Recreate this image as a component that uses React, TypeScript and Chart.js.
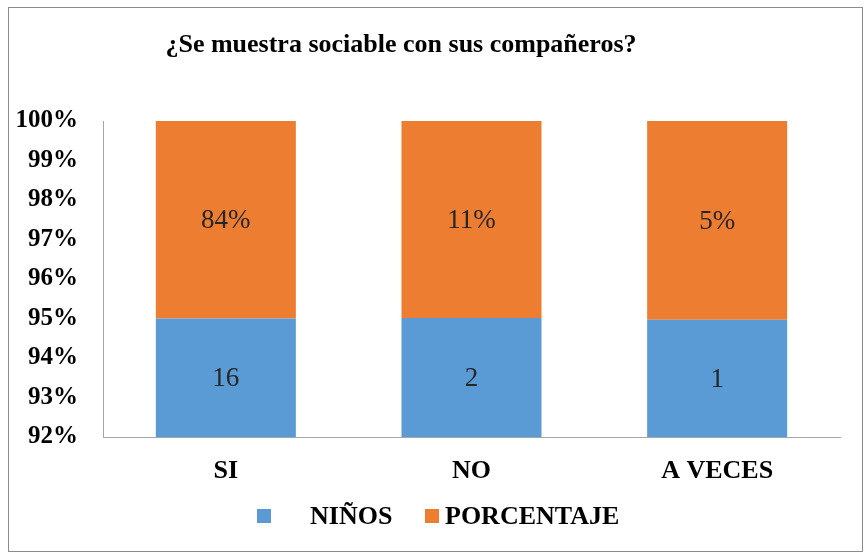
import React, { useEffect, useRef } from "react";
import { Chart, registerables } from "chart.js";

Chart.register(...registerables);

const categories = ["SI", "NO", "A VECES"];
const ninos = [16, 2, 1];
const porcentaje = [0.842, 0.105, 0.053];
const yMin = 92;
const yMax = 100;
const titleText = "¿Se muestra sociable con sus compañeros?";
const seriesNames = ["NIÑOS", "PORCENTAJE"];
const colors = ["#5B9BD5", "#ED7D31"];

const ninosShare = ninos.map((n, i) => (n / (n + porcentaje[i])) * 100);
const pctShare = porcentaje.map((p, i) => (p / (ninos[i] + p)) * 100);
const ninosLabels = ninos.map((n) => String(n));
const pctLabels = porcentaje.map((p) => Math.round(p * 100 + 1e-9) + "%");

const FONT = "'Liberation Serif', 'Times New Roman', serif";

export default function App() {
  const ref = useRef<HTMLCanvasElement | null>(null);
  useEffect(() => {
    if (!ref.current) return;
    const labelsPlugin = {
      id: "barLabels",
      afterDatasetsDraw(chart: any) {
        const ctx = chart.ctx;
        const area = chart.chartArea;
        const allLabels = [ninosLabels, pctLabels];
        ctx.save();
        ctx.font = `27px ${FONT}`;
        ctx.fillStyle = "#262626";
        ctx.textAlign = "center";
        ctx.textBaseline = "middle";
        chart.data.datasets.forEach((ds: any, di: number) => {
          const meta = chart.getDatasetMeta(di);
          meta.data.forEach((el: any, i: number) => {
            const top = Math.max(Math.min(el.y, el.base), area.top);
            const bottom = Math.min(Math.max(el.y, el.base), area.bottom);
            ctx.fillText(allLabels[di][i], el.x, (top + bottom) / 2 + 1);
          });
        });
        ctx.restore();
      },
    };
    const decorPlugin = {
      id: "decor",
      beforeDraw(chart: any) {
        const ctx = chart.ctx;
        ctx.save();
        ctx.fillStyle = "#ffffff";
        ctx.fillRect(0, 0, chart.width, chart.height);
        ctx.restore();
      },
      afterDraw(chart: any) {
        const ctx = chart.ctx;
        ctx.save();
        ctx.strokeStyle = "#8c8c8c";
        ctx.lineWidth = 1;
        ctx.strokeRect(8.5, 7.5, 854, 544);
        // title
        ctx.font = `bold 26px ${FONT}`;
        ctx.fillStyle = "#000000";
        ctx.textAlign = "center";
        ctx.textBaseline = "middle";
        ctx.fillText(titleText, 401, 45);
        // legend
        ctx.font = `bold 26px ${FONT}`;
        ctx.textAlign = "left";
        ctx.fillStyle = colors[0];
        ctx.fillRect(257, 509, 14, 14);
        ctx.fillStyle = colors[1];
        ctx.fillRect(425, 509, 14, 14);
        ctx.fillStyle = "#000000";
        ctx.fillText(seriesNames[0], 310, 517);
        ctx.fillText(seriesNames[1], 445, 517);
        ctx.restore();
      },
    };
    const chart = new Chart(ref.current, {
      type: "bar",
      data: {
        labels: categories,
        datasets: [
          {
            label: seriesNames[0],
            data: ninosShare,
            backgroundColor: colors[0],
            borderWidth: 0,
            barPercentage: 1,
            categoryPercentage: 0.57,
          },
          {
            label: seriesNames[1],
            data: pctShare,
            backgroundColor: colors[1],
            borderWidth: 0,
            barPercentage: 1,
            categoryPercentage: 0.57,
          },
        ],
      },
      options: {
        responsive: false,
        animation: false,
        layout: { padding: { left: 0, right: 24, top: 121, bottom: 59 } },
        plugins: {
          legend: { display: false },
          title: { display: false },
          tooltip: { enabled: false },
        },
        scales: {
          x: {
            stacked: true,
            grid: { display: false, drawTicks: false },
            border: { display: true, color: "#a6a6a6", width: 1 },
            ticks: {
              padding: 19,
              color: "#000000",
              font: { family: FONT, size: 26, weight: "bold" },
            },
            afterFit(scale: any) {
              scale.height = 60;
            },
          },
          y: {
            stacked: true,
            min: yMin,
            max: yMax,
            grid: { display: false, drawTicks: false },
            border: { display: true, color: "#a6a6a6", width: 1 },
            ticks: {
              stepSize: 1,
              padding: 25,
              color: "#000000",
              font: { family: FONT, size: 25, weight: "bold" },
              callback: (v: any) => v + "%",
            },
            afterFit(scale: any) {
              scale.width = 103;
            },
          },
        },
      },
      plugins: [decorPlugin, labelsPlugin],
    });
    return () => chart.destroy();
  }, []);
  return (
    <div style={{ position: "fixed", left: 0, top: 0, width: 864, height: 556, background: "#fff" }}>
      <canvas ref={ref} width={864} height={556} />
    </div>
  );
}
